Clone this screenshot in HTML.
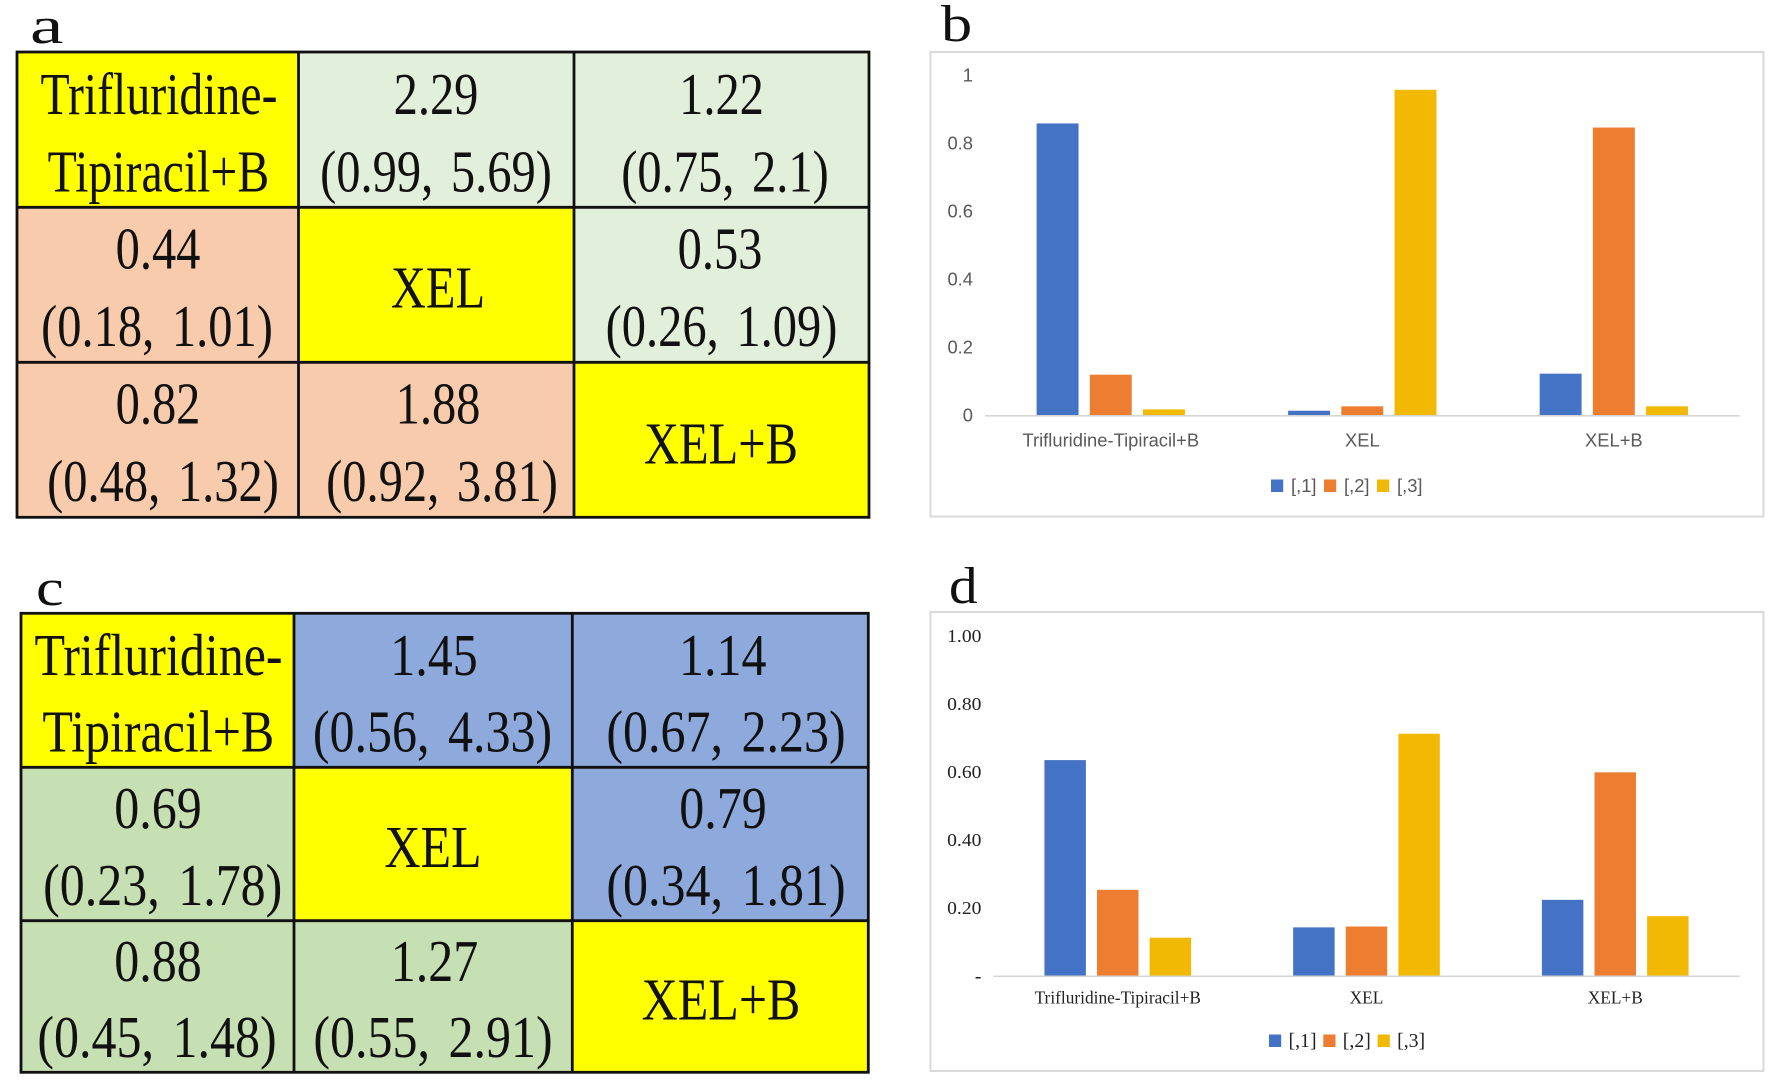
<!DOCTYPE html>
<html lang="en">
<head>
<meta charset="utf-8">
<title>Network meta-analysis league tables and rank probability charts</title>
<style>
html,body{margin:0;padding:0;background:#fff;width:1772px;height:1092px;overflow:hidden}
svg{display:block}
.c{font-family:"Liberation Serif",serif;font-size:48.5px;fill:#111;text-anchor:middle;word-spacing:5.5px}
.d{font-family:"Liberation Serif",serif;font-size:50px;fill:#111;text-anchor:middle;word-spacing:6px}
.p{font-family:"Liberation Serif",serif;font-size:52px;fill:#111}
</style>
</head>
<body>
<svg id="fig" xmlns="http://www.w3.org/2000/svg" width="1772" height="1092" viewBox="0 0 1772 1092">
<rect width="1772" height="1092" fill="#fff"/>

<text class="p" transform="translate(30,43) scale(1.45,1)">a</text>
<text class="p" transform="translate(941,41) scale(1.2,1)">b</text>
<text class="p" transform="translate(36,605) scale(1.2,1)">c</text>
<text class="p" transform="translate(949,603) scale(1.1,1)">d</text>

<!-- Table a -->
<g>
<rect x="17" y="52" width="281.5" height="155.3" fill="#ffff00"/>
<rect x="298.5" y="52" width="275.5" height="155.3" fill="#e2efda"/>
<rect x="574" y="52" width="295" height="155.3" fill="#e2efda"/>
<rect x="17" y="207.3" width="281.5" height="155" fill="#f8cbad"/>
<rect x="298.5" y="207.3" width="275.5" height="155" fill="#ffff00"/>
<rect x="574" y="207.3" width="295" height="155" fill="#e2efda"/>
<rect x="17" y="362.3" width="281.5" height="155" fill="#f8cbad"/>
<rect x="298.5" y="362.3" width="275.5" height="155" fill="#f8cbad"/>
<rect x="574" y="362.3" width="295" height="155" fill="#ffff00"/>
<g fill="none" stroke="#111" stroke-width="2.8">
<rect x="17" y="52" width="852" height="465.3"/>
<path d="M298.5 52V517.3M574 52V517.3M17 207.3H869M17 362.3H869"/>
</g>
<text class="c" transform="translate(159,114) scale(0.985,1.22)">Trifluridine-</text>
<text class="c" transform="translate(158.4,191.5) scale(0.985,1.22)">Tipiracil+B</text>
<text class="c" transform="translate(436,114) scale(1,1.22)">2.29</text>
<text class="c" transform="translate(436,191.5) scale(1,1.22)">(0.99, 5.69)</text>
<text class="c" transform="translate(721.5,114) scale(1,1.22)">1.22</text>
<text class="c" transform="translate(725,191.5) scale(1,1.22)">(0.75, 2.1)</text>
<text class="c" transform="translate(158,268.5) scale(1,1.22)">0.44</text>
<text class="c" transform="translate(157,346) scale(1,1.22)">(0.18, 1.01)</text>
<text class="c" transform="translate(438,307.5) scale(1,1.22)">XEL</text>
<text class="c" transform="translate(720,268.5) scale(1,1.22)">0.53</text>
<text class="c" transform="translate(721.5,346) scale(1,1.22)">(0.26, 1.09)</text>
<text class="c" transform="translate(158,423.5) scale(1,1.22)">0.82</text>
<text class="c" transform="translate(163,501) scale(1,1.22)">(0.48, 1.32)</text>
<text class="c" transform="translate(438,423.5) scale(1,1.22)">1.88</text>
<text class="c" transform="translate(442,501) scale(1,1.22)">(0.92, 3.81)</text>
<text class="c" transform="translate(721,463.5) scale(1,1.22)">XEL+B</text>
</g>

<!-- Table c -->
<g>
<rect x="21" y="613.3" width="273" height="154" fill="#ffff00"/>
<rect x="294" y="613.3" width="278.3" height="154" fill="#8ea9db"/>
<rect x="572.3" y="613.3" width="296" height="154" fill="#8ea9db"/>
<rect x="21" y="767.3" width="273" height="153.4" fill="#c6e0b4"/>
<rect x="294" y="767.3" width="278.3" height="153.4" fill="#ffff00"/>
<rect x="572.3" y="767.3" width="296" height="153.4" fill="#8ea9db"/>
<rect x="21" y="920.7" width="273" height="151.6" fill="#c6e0b4"/>
<rect x="294" y="920.7" width="278.3" height="151.6" fill="#c6e0b4"/>
<rect x="572.3" y="920.7" width="296" height="151.6" fill="#ffff00"/>
<g fill="none" stroke="#111" stroke-width="2.8">
<rect x="21" y="613.3" width="847.3" height="459"/>
<path d="M294 613.3V1072.3M572.3 613.3V1072.3M21 767.3H868.3M21 920.7H868.3"/>
</g>
<text class="d" transform="translate(158.5,675) scale(1,1.18)">Trifluridine-</text>
<text class="d" transform="translate(158.3,751.7) scale(1,1.18)">Tipiracil+B</text>
<text class="d" transform="translate(434,675) scale(1,1.18)">1.45</text>
<text class="d" transform="translate(432.5,751.7) scale(1,1.18)">(0.56, 4.33)</text>
<text class="d" transform="translate(722.7,675) scale(1,1.18)">1.14</text>
<text class="d" transform="translate(726,751.7) scale(1,1.18)">(0.67, 2.23)</text>
<text class="d" transform="translate(158,828) scale(1,1.18)">0.69</text>
<text class="d" transform="translate(162.7,905) scale(1,1.18)">(0.23, 1.78)</text>
<text class="d" transform="translate(433,867) scale(1,1.18)">XEL</text>
<text class="d" transform="translate(723,828) scale(1,1.18)">0.79</text>
<text class="d" transform="translate(726,905) scale(1,1.18)">(0.34, 1.81)</text>
<text class="d" transform="translate(158,981) scale(1,1.18)">0.88</text>
<text class="d" transform="translate(157,1057) scale(1,1.18)">(0.45, 1.48)</text>
<text class="d" transform="translate(434.5,981) scale(1,1.18)">1.27</text>
<text class="d" transform="translate(433,1057) scale(1,1.18)">(0.55, 2.91)</text>
<text class="d" transform="translate(721,1019.5) scale(1,1.18)">XEL+B</text>
</g>
</svg>

<script>
const categories = ['Trifluridine-Tipiracil+B', 'XEL', 'XEL+B'];
const seriesNames = ['[,1]', '[,2]', '[,3]'];
const seriesColors = ['#4472c4', '#ed7d31', '#f1b904'];

const bSeries1 = [0.859, 0.014, 0.123];
const bSeries2 = [0.12, 0.027, 0.847];
const bSeries3 = [0.018, 0.958, 0.027];
const bTickValues = [0, 0.2, 0.4, 0.6, 0.8, 1];
const bTickLabels = ['0', '0.2', '0.4', '0.6', '0.8', '1'];

const dSeries1 = [0.635, 0.143, 0.224];
const dSeries2 = [0.2535, 0.1456, 0.599];
const dSeries3 = [0.1127, 0.7126, 0.176];
const dTickValues = [0, 0.2, 0.4, 0.6, 0.8, 1];
const dTickLabels = ['-', '0.20', '0.40', '0.60', '0.80', '1.00'];

const svgNS = 'http://www.w3.org/2000/svg';
const root = document.getElementById('fig');

function makeAxes(layout) {
  const band = (layout.right - layout.left) / categories.length;
  return {
    band: band,
    xCenter: function (i) { return layout.left + band * (i + 0.5); },
    y: function (v) { return layout.base - v * layout.unit; }
  };
}

function addText(parent, str, x, y, anchor, style) {
  const t = document.createElementNS(svgNS, 'text');
  t.textContent = str;
  t.setAttribute('transform', 'translate(' + x + ',' + y + ') scale(' + style.sx + ',' + style.sy + ')');
  t.setAttribute('text-anchor', anchor);
  t.setAttribute('font-family', style.family);
  t.setAttribute('font-size', style.size);
  t.setAttribute('fill', style.color);
  parent.appendChild(t);
  return t;
}

function addRect(parent, x, y, w, h, fill) {
  const r = document.createElementNS(svgNS, 'rect');
  r.setAttribute('x', x);
  r.setAttribute('y', y);
  r.setAttribute('width', w);
  r.setAttribute('height', h);
  r.setAttribute('fill', fill);
  parent.appendChild(r);
  return r;
}

function drawChart(prefix, layout, series, tickValues, tickLabels) {
  const g = document.createElementNS(svgNS, 'g');
  
  
  root.appendChild(g);

  const frame = addRect(g, layout.fx, layout.fy, layout.fw, layout.fh, '#ffffff');
  frame.setAttribute('stroke', '#d9d9d9');
  frame.setAttribute('stroke-width', '2');
  
  

  const axes = makeAxes(layout);
  const barW = axes.band * 0.1667;
  const step = axes.band * 0.2115;

  tickValues.forEach(function (v, i) {
    const isDash = tickLabels[i] === '-';
    const t = addText(g, tickLabels[i], layout.tickX, axes.y(v) + 6, 'end', layout.tickStyle);
    if (isDash) { t.setAttribute('font-weight', 'bold'); }
    
    
  });

  series.forEach(function (values, s) {
    values.forEach(function (v, c) {
      const cx = axes.xCenter(c) + (s - 1) * step;
      const bar = addRect(g, cx - barW / 2, axes.y(v), barW, layout.base - axes.y(v), seriesColors[s]);
      
      
    });
  });

  const axisLine = addRect(g, layout.left, layout.base - 0.5, layout.right - layout.left, 1.6, '#d4d4d4');
  
  

  categories.forEach(function (name, c) {
    const t = addText(g, name, axes.xCenter(c) + layout.labelDx, layout.labelY, 'middle', layout.labelStyle);
    
    
  });

  seriesNames.forEach(function (name, s) {
    const x = layout.legendX + s * layout.legendStep;
    const sw = addRect(g, x, layout.legendY - 6.5, 12.2, 12.5, seriesColors[s]);
    
    
    const t = addText(g, name, x + layout.legendTextDx, layout.legendY + 6, 'start', layout.legendStyle);
    
    
  });
}

const sansFont = '"Liberation Sans", sans-serif';
const serifFont = '"Liberation Serif", serif';

drawChart('b', {
  fx: 930.5, fy: 52, fw: 833, fh: 464.5,
  left: 985, right: 1739.6, base: 415.5, unit: 340,
  tickX: 973,
  tickStyle: { family: sansFont, size: 17, color: '#595959', sx: 1.08, sy: 1.06 },
  labelStyle: { family: sansFont, size: 17, color: '#595959', sx: 1.08, sy: 1.06 },
  labelY: 446.5, labelDx: 0,
  legendX: 1271, legendStep: 53, legendY: 486, legendTextDx: 20,
  legendStyle: { family: sansFont, size: 17, color: '#595959', sx: 1.08, sy: 1.1 }
}, [bSeries1, bSeries2, bSeries3], bTickValues, bTickLabels);

drawChart('d', {
  fx: 930.5, fy: 612, fw: 833, fh: 459,
  left: 993.4, right: 1739.6, base: 976, unit: 340,
  tickX: 981.4,
  tickStyle: { family: serifFont, size: 17.5, color: '#222222', sx: 1.12, sy: 1.03 },
  labelStyle: { family: serifFont, size: 17, color: '#222222', sx: 1.02, sy: 1.06 },
  labelY: 1003.5, labelDx: 0,
  legendX: 1269, legendStep: 54.3, legendY: 1041, legendTextDx: 19.5,
  legendStyle: { family: serifFont, size: 18, color: '#222222', sx: 1.1, sy: 1.1 }
}, [dSeries1, dSeries2, dSeries3], dTickValues, dTickLabels);
</script>
</body>
</html>
